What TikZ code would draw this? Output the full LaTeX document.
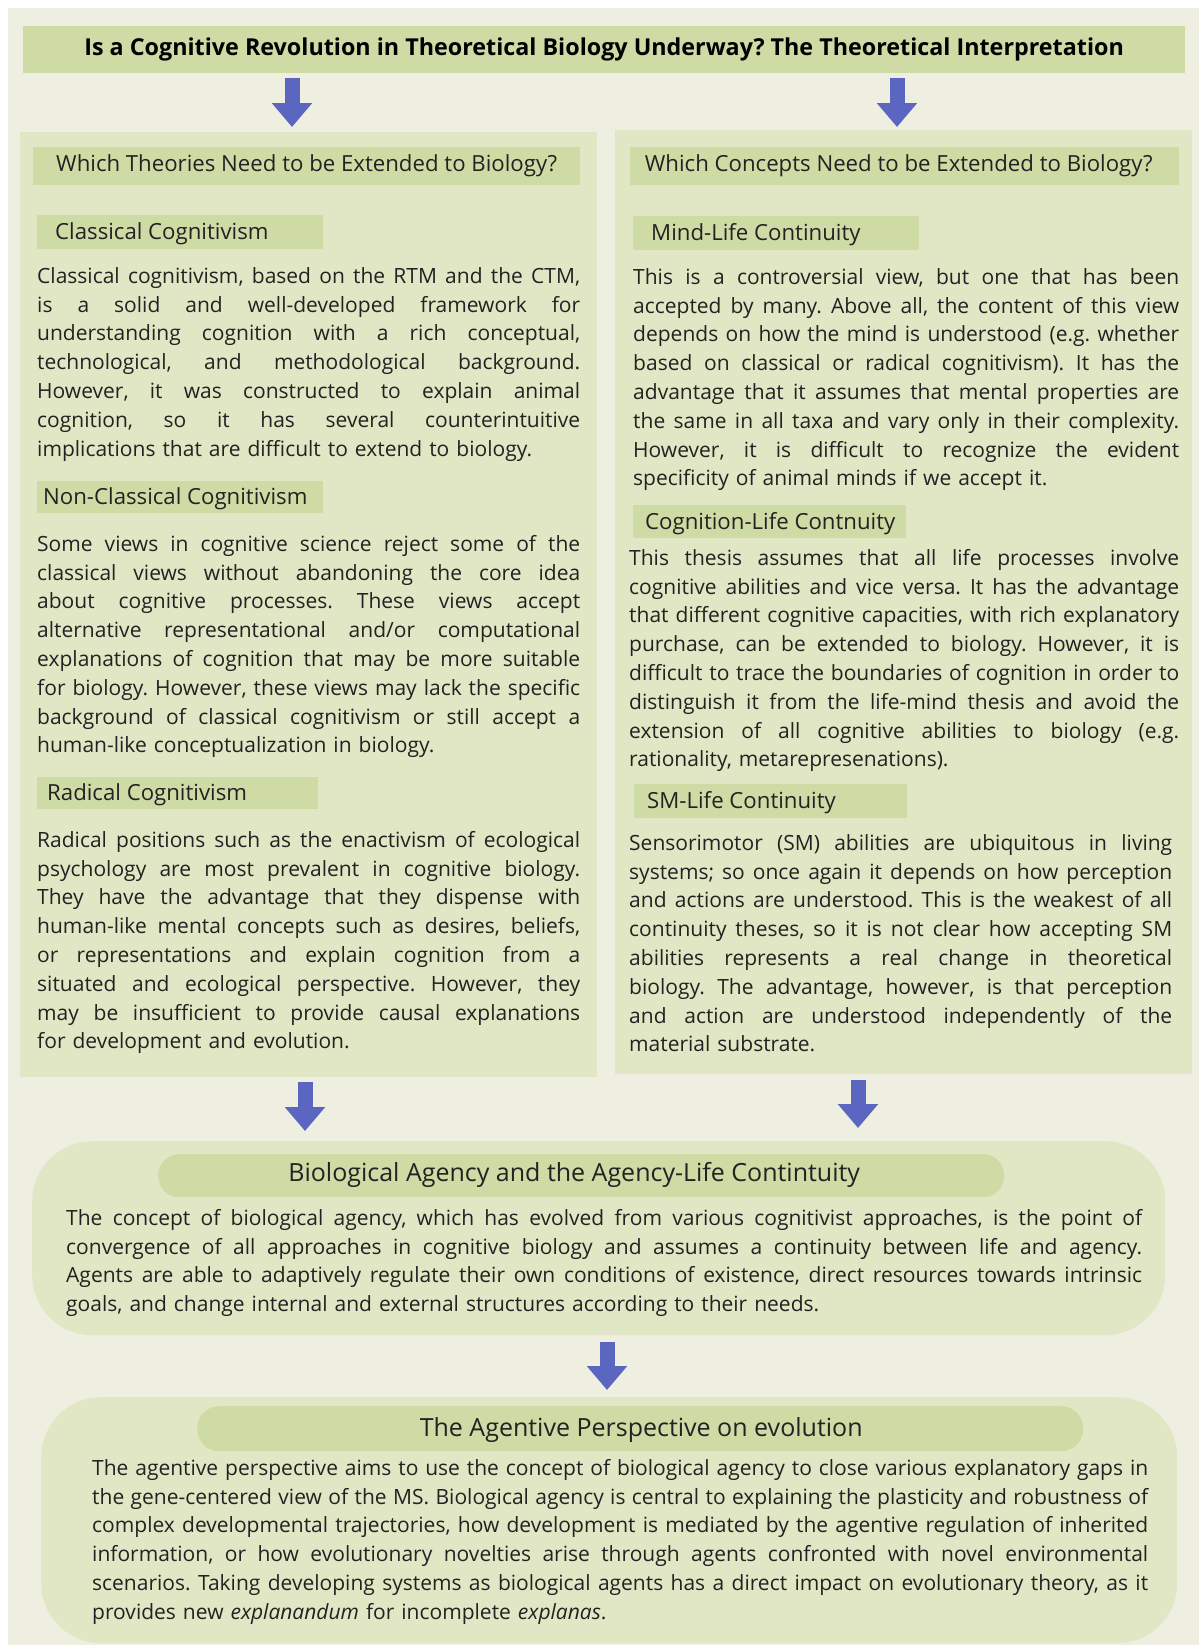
\documentclass[tikz,border=0pt]{standalone}
\usepackage{fontspec}
\setmainfont{Open Sans}
\usetikzlibrary{arrows.meta}

\definecolor{pagebg}{HTML}{EEEFE0}
\definecolor{panelbg}{HTML}{E1E7C4}
\definecolor{barbg}{HTML}{CEDBA5}
\definecolor{arrowblue}{HTML}{5B66C0}
\definecolor{ink}{HTML}{222222}

\newcommand\bodyfont{\fontsize{21}{28.8}\selectfont}
\newcommand\subfont{\fontsize{22.2}{27}\selectfont}
\newcommand\bigfont{\fontsize{25}{30}\selectfont}
\newcommand\titlefont{\fontsize{23.3}{27}\selectfont\bfseries}

% one justified row of a paragraph (word space made stretchable), and the ragged closing row
\newlength\rowwd
\newcommand\jrow[1]{{\spaceskip=0.26em plus 1em minus 0.04em\relax
  \xspaceskip=\spaceskip\hbox to \rowwd{\strut #1}}}
\newcommand\frow[1]{\hbox to \rowwd{\strut #1\hfil}}

\frenchspacing
\begin{document}
\begin{tikzpicture}[x=1pt,y=-1pt,
  panel/.style={fill=panelbg, draw=none, inner sep=0pt, anchor=north west},
  bar/.style={fill=barbg, draw=none, inner sep=0pt, anchor=north west},
  pill/.style={bar, rounded corners=21pt},
  roundpanel/.style={panel, rounded corners=60pt},
  label/.style={font=\subfont, text=ink, inner sep=0pt, anchor=west, text height=16pt, text depth=5pt, yshift=-2pt},
  biglabel/.style={font=\bigfont, text=ink, inner sep=0pt, text height=18pt, text depth=6pt},
  para/.style={anchor=north west, inner sep=0pt, font=\bodyfont, text=ink, text width=#1},
  flowarrow/.style={draw=arrowblue, line width=15pt, -{Triangle[width=39pt,length=24pt]}},
]
\useasboundingbox (0,0) rectangle (1199,1647);
\fill[white] (0,0) rectangle (1199,1647);
\fill[pagebg] (8,8) rectangle (1199,1645);

% ---------- title ----------
\node[bar, minimum width=1162pt, minimum height=47pt, font=\titlefont, text=black] (title) at (23,26)
  {Is a Cognitive Revolution in Theoretical Biology Underway? The Theoretical Interpretation};

% ---------- two column panels ----------
\node[panel, minimum width=577pt, minimum height=945pt] (left) at (20,132) {};
\node[panel, minimum width=577pt, minimum height=944pt] (right) at (615,130) {};

\node[bar, minimum width=547pt, minimum height=38pt, font=\subfont, text=ink] (theories) at (33,147)
  {Which Theories Need to be Extended to Biology?};
\node[bar, minimum width=549pt, minimum height=38pt] (concepts) at (630,147) {};
\node[font=\subfont, text=ink, inner sep=0pt] (conceptslabel) at ([xshift=-6pt]concepts.center)
  {Which Concepts Need to be Extended to Biology?};

% ---------- left column ----------
\node[bar, minimum width=286pt, minimum height=34pt] (h1) at (37,215) {};
\node[label] (h1t) at ([xshift=18pt]h1.west) {Classical Cognitivism};
\setlength\rowwd{543pt}
\node[para=543pt] (p1) at (37,263) {%
\jrow{Classical cognitivism, based on the RTM and the CTM,}
\jrow{is a solid and well-developed framework for}
\jrow{understanding cognition with a rich conceptual,}
\jrow{technological, and methodological background.}
\jrow{However, it was constructed to explain animal}
\jrow{cognition, so it has several counterintuitive}
\frow{implications that are difficult to extend to biology.}};

\node[bar, minimum width=286pt, minimum height=32pt] (h2) at (37,481) {};
\node[label] (h2t) at ([xshift=6pt]h2.west) {Non-Classical Cognitivism};
\node[para=543pt] (p2) at (37,531) {%
\jrow{Some views in cognitive science reject some of the}
\jrow{classical views without abandoning the core idea}
\jrow{about cognitive processes. These views accept}
\jrow{alternative representational and/or computational}
\jrow{explanations of cognition that may be more suitable}
\jrow{for biology. However, these views may lack the specific}
\jrow{background of classical cognitivism or still accept a}
\frow{human-like conceptualization in biology.}};

\node[bar, minimum width=281pt, minimum height=32pt] (h3) at (37,777) {};
\node[label] (h3t) at ([xshift=10pt]h3.west) {Radical Cognitivism};
\node[para=543pt] (p3) at (37,827) {%
\jrow{Radical positions such as the enactivism of ecological}
\jrow{psychology are most prevalent in cognitive biology.}
\jrow{They have the advantage that they dispense with}
\jrow{human-like mental concepts such as desires, beliefs,}
\jrow{or representations and explain cognition from a}
\jrow{situated and ecological perspective. However, they}
\jrow{may be insufficient to provide causal explanations}
\frow{for development and evolution.}};

% ---------- right column ----------
\node[bar, minimum width=286pt, minimum height=34pt] (h4) at (633,216) {};
\node[label] (h4t) at ([xshift=18pt]h4.west) {Mind-Life Continuity};
\setlength\rowwd{546pt}
\node[para=546pt] (p4) at (633,264) {%
\jrow{This is a controversial view, but one that has been}
\jrow{accepted by many. Above all, the content of this view}
\jrow{depends on how the mind is understood (e.g. whether}
\jrow{based on classical or radical cognitivism). It has the}
\jrow{advantage that it assumes that mental properties are}
\jrow{the same in all taxa and vary only in their complexity.}
\jrow{However, it is difficult to recognize the evident}
\frow{specificity of animal minds if we accept it.}};

\node[bar, minimum width=273pt, minimum height=33pt] (h5) at (633,505) {};
\node[label] (h5t) at ([xshift=12pt]h5.west) {Cognition-Life Contnuity};
\setlength\rowwd{550pt}
\node[para=550pt] (p5) at (629,545) {%
\jrow{This thesis assumes that all life processes involve}
\jrow{cognitive abilities and vice versa. It has the advantage}
\jrow{that different cognitive capacities, with rich explanatory}
\jrow{purchase, can be extended to biology. However, it is}
\jrow{difficult to trace the boundaries of cognition in order to}
\jrow{distinguish it from the life-mind thesis and avoid the}
\jrow{extension of all cognitive abilities to biology (e.g.}
\frow{rationality, metarepresenations).}};

\node[bar, minimum width=273pt, minimum height=34pt] (h6) at (634,784) {};
\node[label] (h6t) at ([xshift=13pt]h6.west) {SM-Life Continuity};
\setlength\rowwd{543pt}
\node[para=543pt] (p6) at (629,830) {%
\jrow{Sensorimotor (SM) abilities are ubiquitous in living}
\jrow{systems; so once again it depends on how perception}
\jrow{and actions are understood. This is the weakest of all}
\jrow{continuity theses, so it is not clear how accepting SM}
\jrow{abilities represents a real change in theoretical}
\jrow{biology. The advantage, however, is that perception}
\jrow{and action are understood independently of the}
\frow{material substrate.}};

% ---------- biological agency ----------
\node[roundpanel, minimum width=1133pt, minimum height=194pt] (agency) at (32,1141) {};
\node[pill, minimum width=846pt, minimum height=43pt] (agencyhead) at (158,1154) {};
\node[biglabel] (agencyt) at ([xshift=-7pt]agencyhead.center) {Biological Agency and the Agency-Life Contintuity};
\setlength\rowwd{1076pt}
\node[para=1076pt] (p7) at (66,1205) {%
\jrow{The concept of biological agency, which has evolved from various cognitivist approaches, is the point of}
\jrow{convergence of all approaches in cognitive biology and assumes a continuity between life and agency.}
\jrow{Agents are able to adaptively regulate their own conditions of existence, direct resources towards intrinsic}
\frow{goals, and change internal and external structures according to their needs.}};

% ---------- agentive perspective ----------
\node[roundpanel, minimum width=1136pt, minimum height=246pt] (agentive) at (41,1397) {};
\node[pill, minimum width=886pt, minimum height=45pt, rounded corners=22pt] (agentivehead) at (197,1406) {};
\node[biglabel] (agentivet) at ([xshift=1pt, yshift=-2pt]agentivehead.center) {The Agentive Perspective on evolution};
\setlength\rowwd{1056pt}
\node[para=1056pt] (p8) at (92,1455) {%
\jrow{The agentive perspective aims to use the concept of biological agency to close various explanatory gaps in}
\jrow{the gene-centered view of the MS. Biological agency is central to explaining the plasticity and robustness of}
\jrow{complex developmental trajectories, how development is mediated by the agentive regulation of inherited}
\jrow{information, or how evolutionary novelties arise through agents confronted with novel environmental}
\jrow{scenarios. Taking developing systems as biological agents has a direct impact on evolutionary theory, as it}
\frow{provides new \textit{explanandum} for incomplete \textit{explanas}.}};

% ---------- block arrows ----------
\coordinate (a1s) at (292,78);   \coordinate (a1e) at (292,127);
\coordinate (a2s) at (897,78);   \coordinate (a2e) at (897,127);
\coordinate (a3s) at (305,1082); \coordinate (a3e) at (305,1131);
\coordinate (a4s) at (858,1080); \coordinate (a4e) at (858,1128);
\coordinate (a5s) at (607,1342); \coordinate (a5e) at (607,1390);
\draw[flowarrow] (a1s) -- (a1e);
\draw[flowarrow] (a2s) -- (a2e);
\draw[flowarrow] (a3s) -- (a3e);
\draw[flowarrow] (a4s) -- (a4e);
\draw[flowarrow] (a5s) -- (a5e);
\end{tikzpicture}
\end{document}
